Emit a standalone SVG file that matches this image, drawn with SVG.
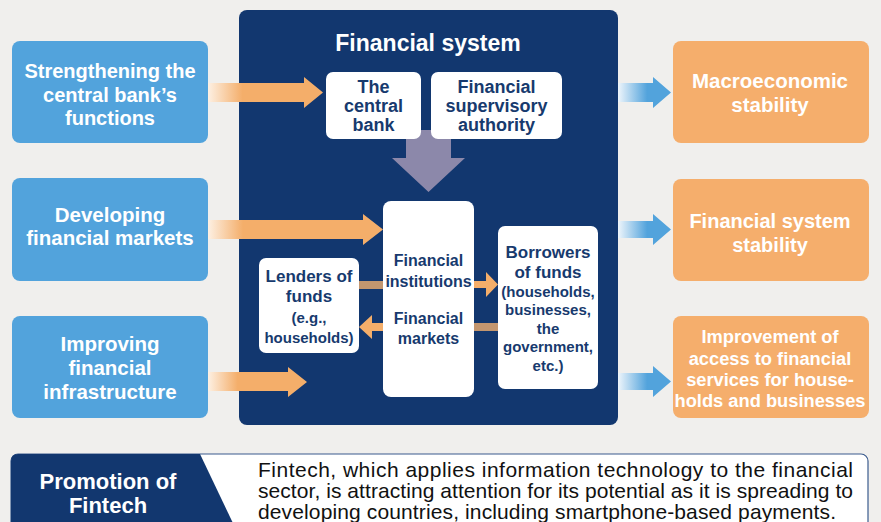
<svg xmlns="http://www.w3.org/2000/svg" width="881" height="522" viewBox="0 0 881 522">
<defs>
<linearGradient id="gO" x1="0" y1="0" x2="1" y2="0" gradientUnits="objectBoundingBox">
<stop offset="0" stop-color="#fdf0e3"/><stop offset="0.3" stop-color="#f4ae6a"/><stop offset="1" stop-color="#f4ae6a"/>
</linearGradient>
<linearGradient id="gO2" x1="208" y1="0" x2="383" y2="0" gradientUnits="userSpaceOnUse">
<stop offset="0" stop-color="#fdf0e3"/><stop offset="0.2" stop-color="#f4ae6a"/><stop offset="1" stop-color="#f4ae6a"/>
</linearGradient>
<linearGradient id="gB" x1="0" y1="0" x2="1" y2="0">
<stop offset="0" stop-color="#eef5fb"/><stop offset="0.55" stop-color="#52a3dc"/><stop offset="1" stop-color="#52a3dc"/>
</linearGradient>
<style>
.bg{fill:#f0efed}
.lb{fill:#52a3dc}
.ob{fill:#f5ae6c}
.wb{fill:#ffffff}
.t{font-family:"Liberation Sans",Arial,sans-serif;font-weight:bold;text-anchor:middle}
.tw{fill:#ffffff}
.tn{fill:#173a6e}
.tan{fill:#c3966f}
.or{fill:#f4ae6a}
.body{font-family:"Liberation Sans",Arial,sans-serif;font-size:21px;fill:#111111}
</style>
</defs>
<rect class="bg" x="0" y="0" width="881" height="522"/>

<g id="financial-system">
<rect x="239" y="10" width="379" height="415" rx="8" fill="#12376f"/>
<text class="t tw" x="428" y="51" font-size="23">Financial system</text>
</g>

<g id="connectors">
<polygon fill="url(#gO)" points="208,83 304,83 304,77 323,92.5 304,108 304,102 208,102"/>
<polygon fill="url(#gO2)" points="208,220 363,220 363,214 383,229.5 363,245 363,239 208,239"/>
<polygon fill="url(#gO)" points="208,372 288,372 288,367 307,382 288,397 288,391 208,391"/>
<polygon fill="url(#gB)" points="618,83 653,83 653,77 671,92.5 653,108 653,102 618,102"/>
<polygon fill="url(#gB)" points="618,221 653,221 653,214 671,229.5 653,245 653,238 618,238"/>
<polygon fill="url(#gB)" points="618,373 653,373 653,366 671,381.5 653,397 653,390 618,390"/>
<polygon fill="#8c88aa" points="406,130 451,130 451,158 465,158 428.5,192 392,158 406,158"/>
<rect class="tan" x="358" y="281" width="26" height="8"/>
<polygon class="or" points="473,281 486,281 486,272 498,284.5 486,297 486,288 473,288"/>
<rect class="tan" x="473" y="323" width="26" height="8"/>
<polygon class="or" points="384,323 372,323 372,315 359,327 372,339 372,331 384,331"/>
</g>

<g id="strengthening">
<rect class="lb" x="12" y="41" width="196" height="102" rx="8"/>
<text class="t tw" font-size="20"><tspan x="110" y="78">Strengthening the</tspan><tspan x="110" y="102">central bank’s</tspan><tspan x="110" y="125">functions</tspan></text>
</g>
<g id="developing">
<rect class="lb" x="12" y="178" width="196" height="103" rx="8"/>
<text class="t tw" font-size="20.5"><tspan x="110" y="222">Developing</tspan><tspan x="110" y="245">financial markets</tspan></text>
</g>
<g id="improving">
<rect class="lb" x="12" y="316" width="196" height="102" rx="8"/>
<text class="t tw" font-size="20.5"><tspan x="110" y="351">Improving</tspan><tspan x="110" y="375">financial</tspan><tspan x="110" y="399">infrastructure</tspan></text>
</g>

<g id="central-bank">
<rect class="wb" x="326" y="72" width="95" height="67" rx="7"/>
<text class="t tn" font-size="18"><tspan x="373.5" y="93">The</tspan><tspan x="373.5" y="112">central</tspan><tspan x="373.5" y="131">bank</tspan></text>
</g>
<g id="supervisory-authority">
<rect class="wb" x="431" y="72" width="131" height="67" rx="7"/>
<text class="t tn" font-size="18"><tspan x="496.5" y="93">Financial</tspan><tspan x="496.5" y="112">supervisory</tspan><tspan x="496.5" y="131">authority</tspan></text>
</g>
<g id="institutions">
<rect class="wb" x="383" y="201" width="91" height="196" rx="8"/>
<text class="t tn" font-size="16"><tspan x="428.5" y="266">Financial</tspan><tspan x="428.5" y="287">institutions</tspan><tspan x="428.5" y="324">Financial</tspan><tspan x="428.5" y="344">markets</tspan></text>
</g>
<g id="lenders">
<rect class="wb" x="259" y="258" width="100" height="95" rx="7"/>
<text class="t tn"><tspan x="309" y="282" font-size="17">Lenders of</tspan><tspan x="309" y="302" font-size="17">funds</tspan><tspan x="309" y="323" font-size="15">(e.g.,</tspan><tspan x="309" y="343" font-size="15">households)</tspan></text>
</g>
<g id="borrowers">
<rect class="wb" x="498" y="226" width="100" height="163" rx="7"/>
<text class="t tn"><tspan x="548" y="258" font-size="17">Borrowers</tspan><tspan x="548" y="278" font-size="17">of funds</tspan><tspan x="548" y="297" font-size="15">(households,</tspan><tspan x="548" y="315" font-size="15">businesses,</tspan><tspan x="548" y="334" font-size="15">the</tspan><tspan x="548" y="352" font-size="15">government,</tspan><tspan x="548" y="371" font-size="15">etc.)</tspan></text>
</g>

<g id="macro">
<rect class="ob" x="673" y="41" width="196" height="102" rx="8"/>
<text class="t tw" font-size="20.5"><tspan x="770" y="88">Macroeconomic</tspan><tspan x="770" y="112">stability</tspan></text>
</g>
<g id="fs-stability">
<rect class="ob" x="673" y="179" width="196" height="102" rx="8"/>
<text class="t tw" font-size="20"><tspan x="770" y="228">Financial system</tspan><tspan x="770" y="252">stability</tspan></text>
</g>
<g id="access">
<rect class="ob" x="673" y="316" width="196" height="102" rx="8"/>
<text class="t tw" font-size="18.3"><tspan x="770" y="343">Improvement of</tspan><tspan x="770" y="365">access to financial</tspan><tspan x="770" y="386">services for house-</tspan><tspan x="770" y="407">holds and businesses</tspan></text>
</g>

<g id="fintech">
<rect x="11" y="454" width="857" height="90" rx="7" fill="#ffffff" stroke="#3b5b8e" stroke-width="1.2"/>
<path d="M18,454 L200,454 L241,540 L11,540 L11,461 Q11,454 18,454 Z" fill="#12376f"/>
<text class="t tw" font-size="22"><tspan x="108" y="489">Promotion of</tspan><tspan x="108" y="513">Fintech</tspan></text>
<text class="body"><tspan x="258" y="477" textLength="595" lengthAdjust="spacing">Fintech, which applies information technology to the financial</tspan><tspan x="258" y="498" textLength="595" lengthAdjust="spacing">sector, is attracting attention for its potential as it is spreading to</tspan><tspan x="258" y="519" textLength="578" lengthAdjust="spacing">developing countries, including smartphone-based payments.</tspan></text>
</g>
</svg>
